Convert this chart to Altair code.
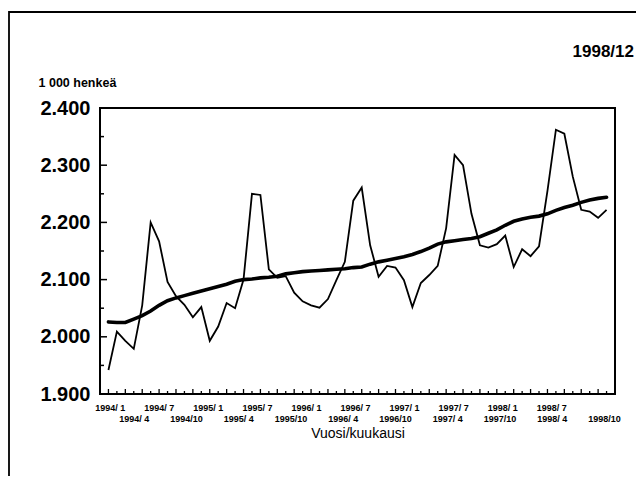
import altair as alt
import pandas as pd
import json

years = [1994, 1995, 1996, 1997, 1998]
month_nums = list(range(1, 13))
months = [f"{y}/{m:>2}" for y in years for m in month_nums]

# Monthly series (1 000 persons)
series = [1942, 2009, 1993, 1979, 2055, 2200, 2167, 2096, 2071, 2056, 2034, 2052,
          1993, 2018, 2059, 2050, 2100, 2250, 2248, 2118, 2103, 2106, 2077, 2062,
          2055, 2051, 2066, 2099, 2131, 2238, 2261, 2160, 2105, 2124, 2121, 2099,
          2052, 2094, 2108, 2124, 2190, 2318, 2300, 2215, 2160, 2156, 2162, 2177,
          2122, 2153, 2141, 2158, 2255, 2362, 2355, 2280, 2222, 2219, 2208, 2222]
# Trend
trend = [2026, 2025, 2025, 2031, 2037, 2045, 2055, 2063, 2068, 2072, 2076, 2080,
         2084, 2088, 2092, 2097, 2100, 2101, 2103, 2104, 2106, 2110, 2112, 2114,
         2115, 2116, 2117, 2118, 2119, 2121, 2122, 2127, 2131, 2134, 2137, 2140,
         2144, 2149, 2155, 2162, 2166, 2168, 2170, 2172, 2175, 2181, 2187, 2195,
         2202, 2206, 2209, 2211, 2215, 2221, 2226, 2230, 2235, 2239, 2242, 2244]

x_label_values = months[::3]
x_row2 = months[3::6]
y_ticks = [1900, 2000, 2100, 2200, 2300, 2400]
y_labels = ["1.900", "2.000", "2.100", "2.200", "2.300", "2.400"]
y_minor = [1950, 2050, 2150, 2250, 2350]

title_text = "1998/12"
y_title = "1 000 henkeä"
x_title = "Vuosi/kuukausi"

FONT = "Liberation Sans"
W, H = 515, 286

df = pd.DataFrame({"kk": months, "arvo": series, "trendi": trend})

xscale = alt.Scale(domain=months, type="point", padding=1.4)
yscale = alt.Scale(domain=[1900, 2400], nice=False, zero=False)

ylab_map = json.dumps(dict(zip([str(v) for v in y_ticks], y_labels)))
row2_js = json.dumps(x_row2)
months_js = json.dumps(months)

# label placement offsets (row 1 slightly compressed, row 2 slightly spread)
idx = f"indexof({months_js}, datum.value)"
dx_expr = (f"indexof({row2_js}, datum.value) >= 0 ? "
           f"(1.6 * floor({idx} / 6)) : (1.3 - 1.6 * floor({idx} / 6))")

base = alt.Chart(df)

line = base.mark_line(color="black", strokeWidth=1.8, strokeJoin="miter").encode(
    x=alt.X("kk:N", scale=xscale, sort=None,
            axis=alt.Axis(values=x_label_values, ticks=False, domain=False, grid=False,
                          labelAngle=0, labelAlign="center", labelFont=FONT,
                          labelFontSize=9, labelFontWeight="bold", labelColor="black",
                          labelPadding=9, labelLineHeight=11, labelBaseline="top",
                          labelExpr=f"indexof({row2_js}, datum.value) >= 0 ? ['', datum.value] : datum.value",
                          labelOverlap=False, labelFlush=False,
                          labelOffset=alt.ExprRef(expr=dx_expr),
                          title=x_title, titleFont=FONT, titleFontSize=14,
                          titleFontWeight="normal", titleColor="black", titlePadding=3)),
    y=alt.Y("arvo:Q", scale=yscale,
            axis=alt.Axis(values=y_ticks, ticks=False, domain=False, grid=False,
                          labelFont=FONT, labelFontSize=20, labelFontWeight="bold",
                          labelColor="black", labelPadding=10,
                          labelExpr=f"{ylab_map}[datum.value + '']",
                          title=y_title, titleAngle=0, titleAlign="left",
                          titleBaseline="alphabetic", titleX=-62, titleY=-22,
                          titleFont=FONT, titleFontSize=12.5, titleFontWeight="bold",
                          titleColor="black")),
)

trend_line = base.mark_line(color="black", strokeWidth=3.6, strokeCap="round").encode(
    x=alt.X("kk:N", scale=xscale, sort=None),
    y=alt.Y("trendi:Q", scale=yscale),
)

xt_major = pd.DataFrame({"kk": months[::2]})
xt_minor = pd.DataFrame({"kk": months[1::2]})
yt_major = pd.DataFrame({"v": y_ticks})
yt_minor = pd.DataFrame({"v": y_minor})

xtick_major = alt.Chart(xt_major).mark_rule(color="black", strokeWidth=1.3).encode(
    x=alt.X("kk:N", scale=xscale, sort=None), y=alt.value(H), y2=alt.value(H - 5))
xtick_minor = alt.Chart(xt_minor).mark_rule(color="black", strokeWidth=1.3).encode(
    x=alt.X("kk:N", scale=xscale, sort=None), y=alt.value(H), y2=alt.value(H - 3))
ytick_major = alt.Chart(yt_major).mark_rule(color="black", strokeWidth=1.5).encode(
    y=alt.Y("v:Q", scale=yscale), x=alt.value(0), x2=alt.value(7))
ytick_minor = alt.Chart(yt_minor).mark_rule(color="black", strokeWidth=1.5).encode(
    y=alt.Y("v:Q", scale=yscale), x=alt.value(0), x2=alt.value(4))

title_mark = alt.Chart(pd.DataFrame({"t": [title_text]})).mark_text(
    font=FONT, fontSize=17, fontWeight="bold", align="right", baseline="alphabetic",
    color="black").encode(text="t:N", x=alt.value(534), y=alt.value(-51))

frame = alt.Chart(pd.DataFrame({"a": [0]})).mark_rect(
    fill=None, stroke="black", strokeWidth=1.8, clip=False).encode(
    x=alt.value(-91), x2=alt.value(560), y=alt.value(-96), y2=alt.value(400))

plot_box = alt.Chart(pd.DataFrame({"a": [0]})).mark_rect(
    fill=None, stroke="black", strokeWidth=2, clip=False).encode(
    x=alt.value(0), x2=alt.value(W), y=alt.value(0), y2=alt.value(H))

chart = alt.layer(frame, plot_box, ytick_major, ytick_minor, xtick_major, xtick_minor,
                  line, trend_line, title_mark).properties(
    width=W, height=H,
    background="white",
    padding={"left": 92, "top": 100, "right": 21, "bottom": 82},
    autosize=alt.AutoSizeParams(type="none"),
).configure_view(stroke=None)

chart.save("out.html", embed_options={"renderer": "svg", "actions": False})
